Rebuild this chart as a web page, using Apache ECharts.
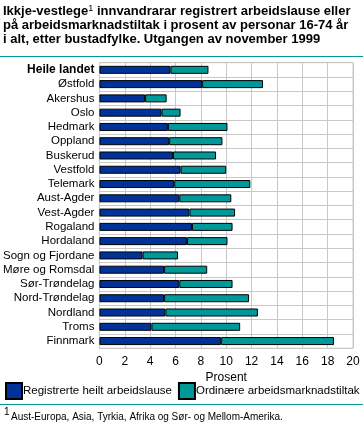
<!DOCTYPE html>
<html><head><meta charset="utf-8">
<script src="https://cdn.jsdelivr.net/npm/echarts@6/dist/echarts.min.js"></script>
<style>html,body{margin:0;padding:0;background:#fff}#c{width:363px;height:424px}</style>
</head><body><div id="c"></div>
<script>
const categories = ['Heile landet','Østfold','Akershus','Oslo','Hedmark','Oppland','Buskerud','Vestfold','Telemark','Aust-Agder','Vest-Agder','Rogaland','Hordaland','Sogn og Fjordane','Møre og Romsdal','Sør-Trøndelag','Nord-Trøndelag','Nordland','Troms','Finnmark'];
const registrerte = [5.6,8.1,3.6,4.9,5.4,5.5,5.8,6.4,5.9,6.3,7.1,7.3,6.9,3.4,5.1,6.3,5.1,5.2,4.1,9.6];
const tiltak = [3.0,4.8,1.7,1.5,4.7,4.2,3.4,3.6,6.0,4.1,3.6,3.2,3.2,2.8,3.4,4.2,6.7,7.3,7.0,8.9];
const xTicks = [0,2,4,6,8,10,12,14,16,18,20];

const FONT = 'Liberation Sans, Arial, sans-serif';
const chart = echarts.init(document.getElementById('c'));
chart.setOption({
  animation:false,
  textStyle:{fontFamily:FONT},
  title:{
    left:3, top:4, padding:0,
    text:'Ikkje-vestlege{s|1} innvandrarar registrert arbeidslause eller\npå arbeidsmarknadstiltak i prosent av personar 16-74 år\ni alt, etter bustadfylke. Utgangen av november 1999',
    textStyle:{fontSize:13,fontWeight:'bold',color:'#000',lineHeight:14,fontFamily:FONT,
      rich:{s:{fontSize:9,fontWeight:'normal',verticalAlign:'top',lineHeight:14,padding:[0,0,5,0]}}}
  },
  legend:{
    orient:'horizontal', left:5, top:382, width:420, itemWidth:16, itemHeight:16, itemGap:6, padding:0,
    icon:'rect',
    textStyle:{fontSize:11.5,color:'#000',padding:[0,0,0,-4]},
    data:['Registrerte heilt arbeidslause','Ordinære arbeidsmarknadstiltak']
  },
  grid:{left:99,right:10,top:62.7,height:285.5,show:true,borderColor:'#c8c8c8',borderWidth:1},
  xAxis:{type:'value',min:xTicks[0],max:xTicks[xTicks.length-1],interval:2,
    axisLine:{show:false},axisTick:{show:false},
    axisLabel:{fontSize:12,color:'#000',margin:7},
    splitLine:{lineStyle:{color:'#c8c8c8'}},
    name:'Prosent',nameLocation:'middle',nameGap:21,nameTextStyle:{fontSize:12,color:'#000'}},
  yAxis:[{type:'category',data:categories,inverse:true,
    axisLine:{show:false},axisTick:{show:false},
    axisLabel:{interval:0,fontSize:11.5,color:'#000',margin:5,
      formatter:v=>v==='Heile landet'?'{b|'+v+'}':v,
      rich:{b:{fontWeight:'bold',fontSize:12}}}},
    {type:'value',min:0,max:20,interval:1,show:true,position:'right',
     axisLine:{show:false},axisTick:{show:false},axisLabel:{show:false},
     splitLine:{show:true,lineStyle:{color:'#c8c8c8'}}}],
  series:[
    {name:'Registrerte heilt arbeidslause',type:'bar',stack:'a',data:registrerte,barWidth:8,
     itemStyle:{color:'#003399',borderColor:'#000',borderWidth:1}},
    {name:'Ordinære arbeidsmarknadstiltak',type:'bar',stack:'a',data:tiltak,barWidth:8,
     itemStyle:{color:'#009999',borderColor:'#000',borderWidth:1}}
  ],
  graphic:[
    {type:'line',shape:{x1:0,y1:56.5,x2:363,y2:56.5},style:{stroke:'#009999',lineWidth:1}},
    {type:'line',shape:{x1:0,y1:404.5,x2:363,y2:404.5},style:{stroke:'#009999',lineWidth:1}},
    {type:'text',left:4,top:407,style:{text:'1',font:'10px '+FONT,fill:'#000'}},
    {type:'text',left:11,top:412,style:{text:'Aust-Europa, Asia, Tyrkia, Afrika og Sør- og Mellom-Amerika.',font:'10px '+FONT,fill:'#000'}}
  ]
});
</script></body></html>
